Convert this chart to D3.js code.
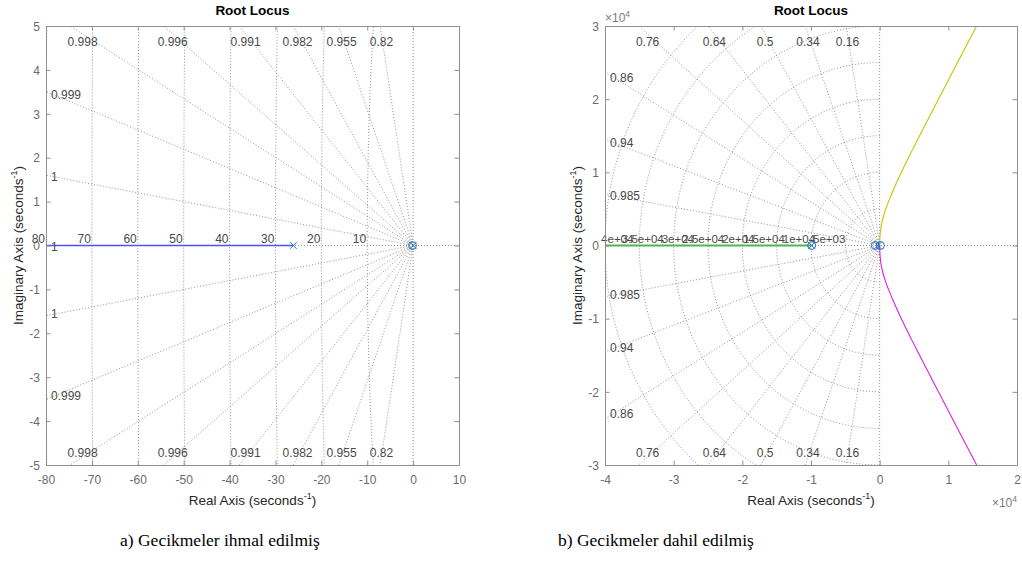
<!DOCTYPE html>
<html><head><meta charset="utf-8">
<script src="https://cdn.jsdelivr.net/npm/d3@7"></script>
<style>body{margin:0;background:#fff}svg{display:block}</style>
</head><body>
<svg id="c" width="1022" height="567"></svg>
<script>
// ---------------- data ----------------
// panel a) delays neglected
const leftXTicks = [-80,-70,-60,-50,-40,-30,-20,-10,0,10];
const leftYTicks = [-5,-4,-3,-2,-1,0,1,2,3,4,5];
const leftDamping = [0.9998, 0.99904, 0.99777, 0.9958, 0.9914, 0.9822, 0.9554, 0.8202];
const leftWn = [10,20,30,40,50,60,70,80];
const leftBlueX = [-80, -26.1];
const leftBlueY = [0, 0];
const leftPoles = [[-26.1, 0], [0, 0]];
const leftZeros = [[-0.15, 0]];

// panel b) delays included
const rightXTicks = [-40000,-30000,-20000,-10000,0,10000,20000];
const rightYTicks = [-30000,-20000,-10000,0,10000,20000,30000];
const rightDamping = [0.985, 0.94, 0.86, 0.76, 0.64, 0.5, 0.34, 0.16];
const rightWn = [5000,10000,15000,20000,25000,30000,35000,40000];
const greenX = [-40000, -9900];
const greenY = [0, 0];
const yellowX = [0, 30, 120, 290, 550, 890, 1370, 2180, 3160, 4460, 5810, 8560, 11335, 14135];
const yellowY = [0, 1000, 2000, 3000, 4000, 5000, 6200, 8000, 10000, 12500, 15000, 20000, 25000, 30000];
const magentaX = [0, 30, 120, 290, 550, 890, 1370, 2180, 3160, 4460, 5810, 8560, 11335, 14135];
const magentaY = [0, -1000, -2000, -3000, -4000, -5000, -6200, -8000, -10000, -12500, -15000, -20000, -25000, -30000];
const rightPoles = [[-9900, 0], [-250, 0]];
const rightZeros = [[-9900, 0], [-640, 0], [100, 0]];

const captions = ["a) Gecikmeler ihmal edilmiş", "b) Gecikmeler dahil edilmiş"];

// ---------------- drawing ----------------
const FONT = "'Liberation Sans', Arial, Helvetica, sans-serif";
const GRID = "#6e6e6e";
const BOX = "#8f8f8f";
const TICKC = "#6a6a6a";
const LBLC = "#4a4a4a";
const MARK = "#1f6fc4";
const svg = d3.select("#c");

function fmtE(v) {
  const e = Math.floor(Math.log10(v));
  const m = +(v / Math.pow(10, e)).toPrecision(2);
  return m + "e+" + String(e).padStart(2, "0");
}

function panel(cfg) {
  const {x0, x1, y0, y1} = cfg.box;
  const xs = d3.scaleLinear().domain(cfg.xDomain).range([x0, x1]);
  const ys = d3.scaleLinear().domain(cfg.yDomain).range([y1, y0]);
  const clipId = "clip" + cfg.id;
  svg.append("clipPath").attr("id", clipId).append("rect")
    .attr("x", x0).attr("y", y0).attr("width", x1 - x0).attr("height", y1 - y0);

  const g = svg.append("g");
  const grid = g.append("g").attr("clip-path", `url(#${clipId})`)
    .attr("fill", "none").attr("stroke", GRID).attr("stroke-width", 0.75)
    .attr("stroke-dasharray", "1 2");

  // real & imaginary axes
  grid.append("line").attr("x1", xs(cfg.xDomain[0])).attr("x2", xs(cfg.xDomain[1]))
    .attr("y1", ys(0)).attr("y2", ys(0));
  grid.append("line").attr("x1", xs(0)).attr("x2", xs(0))
    .attr("y1", ys(cfg.yDomain[0])).attr("y2", ys(cfg.yDomain[1]));

  // natural frequency semicircles
  const angles = d3.range(0, 361).map(i => Math.PI / 2 + i * Math.PI / 360);
  cfg.wn.forEach(w => {
    grid.append("path").attr("d", d3.line()(angles.map(a => [xs(w * Math.cos(a)), ys(w * Math.sin(a))])));
  });

  // branches (drawn under the labels, over the grid)
  const br = g.append("g").attr("fill", "none");
  cfg.branches.forEach(b => {
    const pts = d3.zip(b.x, b.y);
    const line = d3.line().x(d => xs(d[0])).y(d => ys(d[1]))
      .curve(pts.length > 2 ? d3.curveNatural : d3.curveLinear);
    br.append("path").attr("d", line(pts)).attr("stroke", b.color).attr("stroke-width", b.width);
  });

  // damping rays
  const labels = g.append("g").attr("font-family", FONT).attr("font-size", 12).attr("fill", LBLC);
  const xmin = cfg.xDomain[0], ymax = cfg.yDomain[1];
  cfg.damping.forEach(z => {
    const s = Math.sqrt(1 - z * z);
    const tTop = ymax / s, tLeft = -xmin / z;
    const t = Math.min(tTop, tLeft) * 1.05;
    [1, -1].forEach(sg => {
      grid.append("line").attr("x1", xs(0)).attr("y1", ys(0))
        .attr("x2", xs(-z * t)).attr("y2", ys(sg * s * t));
    });
    const txt = String(+z.toPrecision(3));
    if (tTop < tLeft) {
      const yl = ys.invert(y0 + 8);
      const px = xs(-yl * z / s);
      labels.append("text").attr("x", px).attr("y", y0 + 16).attr("dy", "0.35em")
        .attr("text-anchor", "middle").text(txt);
      labels.append("text").attr("x", px).attr("y", y1 - 12.5).attr("dy", "0.35em")
        .attr("text-anchor", "middle").text(txt);
    } else {
      const xl = xs.invert(x0 + 9);
      const yv = -xl * s / z;
      labels.append("text").attr("x", x0 + 5).attr("y", ys(yv)).attr("dy", "0.35em").text(txt);
      labels.append("text").attr("x", x0 + 5).attr("y", ys(-yv)).attr("dy", "0.35em").text(txt);
    }
  });
  if (cfg.realAxisLabel) {
    labels.append("text").attr("x", x0 + 5).attr("y", ys(0) + 1).attr("dy", "0.35em").text("1");
  }
  cfg.wn.forEach(w => {
    labels.append("text").attr("x", xs(-w * cfg.wnLabelScale) + cfg.wnLabelShift).attr("y", ys(0) - 6.5).attr("dy", "0.35em")
      .attr("font-size", cfg.wnFont)
      .attr("text-anchor", "end").text(cfg.wnFormat(w));
  });

  // poles & zeros
  const mk = g.append("g").attr("fill", "none").attr("stroke", MARK).attr("stroke-width", 1);
  cfg.zeros.forEach(p => mk.append("circle").attr("cx", xs(p[0])).attr("cy", ys(p[1])).attr("r", 4));
  cfg.poles.forEach(p => {
    const cx = xs(p[0]), cy = ys(p[1]), r = 3.3;
    mk.append("path").attr("d", `M${cx - r},${cy - r}L${cx + r},${cy + r}M${cx - r},${cy + r}L${cx + r},${cy - r}`);
  });

  // axes (box with inward ticks)
  const tk = 4.5;
  const axB = g.append("g").attr("transform", `translate(0,${y1})`)
    .call(d3.axisBottom(xs).tickValues(cfg.xTicks).tickSizeInner(-tk).tickSizeOuter(0).tickFormat(cfg.tickFormat));
  const axT = g.append("g").attr("transform", `translate(0,${y0})`)
    .call(d3.axisTop(xs).tickValues(cfg.xTicks).tickSizeInner(-tk).tickSizeOuter(0).tickFormat(""));
  const axL = g.append("g").attr("transform", `translate(${x0},0)`)
    .call(d3.axisLeft(ys).tickValues(cfg.yTicks).tickSizeInner(-tk).tickSizeOuter(0).tickPadding(6).tickFormat(cfg.tickFormat));
  const axR = g.append("g").attr("transform", `translate(${x1},0)`)
    .call(d3.axisRight(ys).tickValues(cfg.yTicks).tickSizeInner(-tk).tickSizeOuter(0).tickFormat(""));
  [axB, axT, axL, axR].forEach(a => {
    a.select(".domain").attr("stroke", BOX).attr("stroke-width", 1);
    a.selectAll(".tick line").attr("stroke", BOX);
    a.selectAll("text").attr("font-family", FONT).attr("font-size", 12).attr("fill", TICKC);
  });
  axB.selectAll(".tick text").attr("y", 15).attr("dy", "0.35em");
  axL.selectAll(".tick text").attr("dy", "0.35em");

  const cx = (x0 + x1) / 2;
  // title
  g.append("text").attr("x", cx).attr("y", 15).attr("text-anchor", "middle")
    .attr("font-family", FONT).attr("font-size", 13.5).attr("font-weight", "bold").attr("fill", "#000")
    .text("Root Locus");
  // x label
  const xl = g.append("text").attr("x", cx).attr("y", 505).attr("text-anchor", "middle")
    .attr("font-family", FONT).attr("font-size", 13.5).attr("fill", "#262626");
  xl.append("tspan").text("Real Axis (seconds");
  xl.append("tspan").attr("font-size", 9).attr("dy", -6).text("-1");
  xl.append("tspan").attr("dy", 6).text(")");
  // y label
  const yl = g.append("text").attr("transform", `translate(${cfg.yLabelX},${(y0 + y1) / 2}) rotate(-90)`)
    .attr("text-anchor", "middle").attr("font-family", FONT).attr("font-size", 13.5).attr("fill", "#262626");
  yl.append("tspan").text("Imaginary Axis (seconds");
  yl.append("tspan").attr("font-size", 9).attr("dy", -6).text("-1");
  yl.append("tspan").attr("dy", 6).text(")");

  if (cfg.exponent) {
    const e1 = g.append("text").attr("x", x0).attr("y", 22).attr("font-family", FONT)
      .attr("font-size", 12).attr("fill", "#7a7a7a");
    e1.append("tspan").text("\u00d710");
    e1.append("tspan").attr("font-size", 8.5).attr("dy", -5).text(cfg.exponent);
    const e2 = g.append("text").attr("x", x1).attr("y", 507).attr("font-family", FONT)
      .attr("font-size", 12).attr("fill", "#7a7a7a").attr("text-anchor", "end");
    e2.append("tspan").text("\u00d710");
    e2.append("tspan").attr("font-size", 8.5).attr("dy", -5).text(cfg.exponent);
  }
}

panel({
  id: "a", box: {x0: 46, x1: 459, y0: 26, y1: 465},
  xDomain: [-80, 10], yDomain: [-5, 5],
  xTicks: leftXTicks, yTicks: leftYTicks, tickFormat: d => String(d),
  damping: leftDamping, wn: leftWn, wnFormat: w => String(w), realAxisLabel: true,
  wnLabelScale: 1, wnLabelShift: -1, wnFont: 12,
  branches: [{x: leftBlueX, y: leftBlueY, color: "#4f4fff", width: 1.6}],
  poles: leftPoles, zeros: leftZeros, yLabelX: 23
});
panel({
  id: "b", box: {x0: 605, x1: 1017, y0: 26, y1: 465},
  xDomain: [-40000, 20000], yDomain: [-30000, 30000],
  xTicks: rightXTicks, yTicks: rightYTicks, tickFormat: d => String(d / 10000),
  damping: rightDamping, wn: rightWn, wnFormat: fmtE, realAxisLabel: false,
  wnLabelScale: 0.882, wnLabelShift: -4, wnFont: 11.5,
  branches: [
    {x: greenX, y: greenY, color: "#4cb84c", width: 1.8},
    {x: yellowX, y: yellowY, color: "#c4c400", width: 1.1},
    {x: magentaX, y: magentaY, color: "#e020e0", width: 1.1}
  ],
  poles: rightPoles, zeros: rightZeros, yLabelX: 582, exponent: "4"
});

// captions
svg.append("text").attr("x", 120).attr("y", 546).attr("font-family", "'Liberation Serif', 'Times New Roman', serif")
  .attr("font-size", 17.5).attr("fill", "#000").text(captions[0]);
svg.append("text").attr("x", 558).attr("y", 546).attr("font-family", "'Liberation Serif', 'Times New Roman', serif")
  .attr("font-size", 17.5).attr("fill", "#000").text(captions[1]);
</script>
</body></html>
